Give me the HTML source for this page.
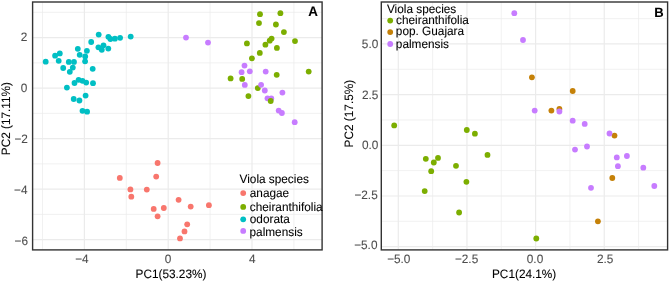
<!DOCTYPE html><html><head><meta charset="utf-8"><style>html,body{margin:0;padding:0;background:#fff;}svg{display:block;will-change:transform;}text{font-family:"Liberation Sans",sans-serif;text-rendering:geometricPrecision;}</style></head><body>
<svg width="669" height="282" viewBox="0 0 669 282">
<rect width="669" height="282" fill="#fff"/>
<line x1="42.50" y1="2.0" x2="42.50" y2="249.9" stroke="#EBEBEB" stroke-width="0.7"/>
<line x1="126.30" y1="2.0" x2="126.30" y2="249.9" stroke="#EBEBEB" stroke-width="0.7"/>
<line x1="210.10" y1="2.0" x2="210.10" y2="249.9" stroke="#EBEBEB" stroke-width="0.7"/>
<line x1="293.90" y1="2.0" x2="293.90" y2="249.9" stroke="#EBEBEB" stroke-width="0.7"/>
<line x1="32.6" y1="12.32" x2="322.1" y2="12.32" stroke="#EBEBEB" stroke-width="0.7"/>
<line x1="32.6" y1="62.84" x2="322.1" y2="62.84" stroke="#EBEBEB" stroke-width="0.7"/>
<line x1="32.6" y1="113.36" x2="322.1" y2="113.36" stroke="#EBEBEB" stroke-width="0.7"/>
<line x1="32.6" y1="163.88" x2="322.1" y2="163.88" stroke="#EBEBEB" stroke-width="0.7"/>
<line x1="32.6" y1="214.40" x2="322.1" y2="214.40" stroke="#EBEBEB" stroke-width="0.7"/>
<line x1="84.40" y1="2.0" x2="84.40" y2="249.9" stroke="#EBEBEB" stroke-width="1.2"/>
<line x1="168.20" y1="2.0" x2="168.20" y2="249.9" stroke="#EBEBEB" stroke-width="1.2"/>
<line x1="252.00" y1="2.0" x2="252.00" y2="249.9" stroke="#EBEBEB" stroke-width="1.2"/>
<line x1="32.6" y1="37.58" x2="322.1" y2="37.58" stroke="#EBEBEB" stroke-width="1.2"/>
<line x1="32.6" y1="88.10" x2="322.1" y2="88.10" stroke="#EBEBEB" stroke-width="1.2"/>
<line x1="32.6" y1="138.62" x2="322.1" y2="138.62" stroke="#EBEBEB" stroke-width="1.2"/>
<line x1="32.6" y1="189.14" x2="322.1" y2="189.14" stroke="#EBEBEB" stroke-width="1.2"/>
<line x1="32.6" y1="239.66" x2="322.1" y2="239.66" stroke="#EBEBEB" stroke-width="1.2"/>
<line x1="432.62" y1="2.0" x2="432.62" y2="249.9" stroke="#EBEBEB" stroke-width="0.7"/>
<line x1="501.28" y1="2.0" x2="501.28" y2="249.9" stroke="#EBEBEB" stroke-width="0.7"/>
<line x1="569.93" y1="2.0" x2="569.93" y2="249.9" stroke="#EBEBEB" stroke-width="0.7"/>
<line x1="638.58" y1="2.0" x2="638.58" y2="249.9" stroke="#EBEBEB" stroke-width="0.7"/>
<line x1="381.3" y1="18.61" x2="667.6" y2="18.61" stroke="#EBEBEB" stroke-width="0.7"/>
<line x1="381.3" y1="69.29" x2="667.6" y2="69.29" stroke="#EBEBEB" stroke-width="0.7"/>
<line x1="381.3" y1="119.96" x2="667.6" y2="119.96" stroke="#EBEBEB" stroke-width="0.7"/>
<line x1="381.3" y1="170.64" x2="667.6" y2="170.64" stroke="#EBEBEB" stroke-width="0.7"/>
<line x1="381.3" y1="221.31" x2="667.6" y2="221.31" stroke="#EBEBEB" stroke-width="0.7"/>
<line x1="398.30" y1="2.0" x2="398.30" y2="249.9" stroke="#EBEBEB" stroke-width="1.2"/>
<line x1="466.95" y1="2.0" x2="466.95" y2="249.9" stroke="#EBEBEB" stroke-width="1.2"/>
<line x1="535.60" y1="2.0" x2="535.60" y2="249.9" stroke="#EBEBEB" stroke-width="1.2"/>
<line x1="604.25" y1="2.0" x2="604.25" y2="249.9" stroke="#EBEBEB" stroke-width="1.2"/>
<line x1="381.3" y1="43.95" x2="667.6" y2="43.95" stroke="#EBEBEB" stroke-width="1.2"/>
<line x1="381.3" y1="94.63" x2="667.6" y2="94.63" stroke="#EBEBEB" stroke-width="1.2"/>
<line x1="381.3" y1="145.30" x2="667.6" y2="145.30" stroke="#EBEBEB" stroke-width="1.2"/>
<line x1="381.3" y1="195.98" x2="667.6" y2="195.98" stroke="#EBEBEB" stroke-width="1.2"/>
<line x1="381.3" y1="246.65" x2="667.6" y2="246.65" stroke="#EBEBEB" stroke-width="1.2"/>
<circle cx="157.6" cy="163" r="2.9" fill="#F8766D"/>
<circle cx="119.8" cy="177.9" r="2.9" fill="#F8766D"/>
<circle cx="156.2" cy="176.6" r="2.9" fill="#F8766D"/>
<circle cx="130.4" cy="189.4" r="2.9" fill="#F8766D"/>
<circle cx="146.8" cy="189.6" r="2.9" fill="#F8766D"/>
<circle cx="131.3" cy="196.7" r="2.9" fill="#F8766D"/>
<circle cx="153.7" cy="208.9" r="2.9" fill="#F8766D"/>
<circle cx="163.8" cy="208" r="2.9" fill="#F8766D"/>
<circle cx="157.6" cy="216.3" r="2.9" fill="#F8766D"/>
<circle cx="178.6" cy="199.8" r="2.9" fill="#F8766D"/>
<circle cx="190.7" cy="206.6" r="2.9" fill="#F8766D"/>
<circle cx="208.9" cy="205.2" r="2.9" fill="#F8766D"/>
<circle cx="187.2" cy="224.3" r="2.9" fill="#F8766D"/>
<circle cx="184.5" cy="231.4" r="2.9" fill="#F8766D"/>
<circle cx="180" cy="238.4" r="2.9" fill="#F8766D"/>
<circle cx="260" cy="14.2" r="2.9" fill="#7CAE00"/>
<circle cx="280.4" cy="13.2" r="2.9" fill="#7CAE00"/>
<circle cx="259" cy="23.1" r="2.9" fill="#7CAE00"/>
<circle cx="275.9" cy="24.5" r="2.9" fill="#7CAE00"/>
<circle cx="283.9" cy="32.1" r="2.9" fill="#7CAE00"/>
<circle cx="246.9" cy="43.4" r="2.9" fill="#7CAE00"/>
<circle cx="265.4" cy="44.7" r="2.9" fill="#7CAE00"/>
<circle cx="269.7" cy="40.7" r="2.9" fill="#7CAE00"/>
<circle cx="271.6" cy="38.6" r="2.9" fill="#7CAE00"/>
<circle cx="276.9" cy="47.9" r="2.9" fill="#7CAE00"/>
<circle cx="295" cy="41.1" r="2.9" fill="#7CAE00"/>
<circle cx="259.8" cy="52.9" r="2.9" fill="#7CAE00"/>
<circle cx="251.9" cy="58.3" r="2.9" fill="#7CAE00"/>
<circle cx="276.7" cy="74.8" r="2.9" fill="#7CAE00"/>
<circle cx="308.7" cy="71.6" r="2.9" fill="#7CAE00"/>
<circle cx="230.6" cy="78.4" r="2.9" fill="#7CAE00"/>
<circle cx="242.2" cy="78.9" r="2.9" fill="#7CAE00"/>
<circle cx="257.8" cy="88.1" r="2.9" fill="#7CAE00"/>
<circle cx="248.4" cy="96.1" r="2.9" fill="#7CAE00"/>
<circle cx="45.7" cy="61.7" r="2.9" fill="#00BFC4"/>
<circle cx="55.1" cy="55.7" r="2.9" fill="#00BFC4"/>
<circle cx="59.8" cy="53.4" r="2.9" fill="#00BFC4"/>
<circle cx="58.7" cy="60.8" r="2.9" fill="#00BFC4"/>
<circle cx="63.2" cy="68" r="2.9" fill="#00BFC4"/>
<circle cx="68.8" cy="61.9" r="2.9" fill="#00BFC4"/>
<circle cx="74.0" cy="61.9" r="2.9" fill="#00BFC4"/>
<circle cx="72.8" cy="67.6" r="2.9" fill="#00BFC4"/>
<circle cx="69.8" cy="71.8" r="2.9" fill="#00BFC4"/>
<circle cx="77.8" cy="48.8" r="2.9" fill="#00BFC4"/>
<circle cx="79.7" cy="54.8" r="2.9" fill="#00BFC4"/>
<circle cx="86.9" cy="50.8" r="2.9" fill="#00BFC4"/>
<circle cx="85.2" cy="56.5" r="2.9" fill="#00BFC4"/>
<circle cx="85.1" cy="61.3" r="2.9" fill="#00BFC4"/>
<circle cx="91.2" cy="42.0" r="2.9" fill="#00BFC4"/>
<circle cx="92.7" cy="68.8" r="2.9" fill="#00BFC4"/>
<circle cx="98.7" cy="34.6" r="2.9" fill="#00BFC4"/>
<circle cx="108.4" cy="36.8" r="2.9" fill="#00BFC4"/>
<circle cx="110.4" cy="39.0" r="2.9" fill="#00BFC4"/>
<circle cx="114.9" cy="38.7" r="2.9" fill="#00BFC4"/>
<circle cx="120.1" cy="37.8" r="2.9" fill="#00BFC4"/>
<circle cx="130.7" cy="36.6" r="2.9" fill="#00BFC4"/>
<circle cx="98.4" cy="47.3" r="2.9" fill="#00BFC4"/>
<circle cx="103.5" cy="45.3" r="2.9" fill="#00BFC4"/>
<circle cx="101.8" cy="49.8" r="2.9" fill="#00BFC4"/>
<circle cx="108.3" cy="48.6" r="2.9" fill="#00BFC4"/>
<circle cx="74.5" cy="83.0" r="2.9" fill="#00BFC4"/>
<circle cx="78.6" cy="79.8" r="2.9" fill="#00BFC4"/>
<circle cx="82.5" cy="80.8" r="2.9" fill="#00BFC4"/>
<circle cx="86.2" cy="82.6" r="2.9" fill="#00BFC4"/>
<circle cx="93.0" cy="83.2" r="2.9" fill="#00BFC4"/>
<circle cx="66.9" cy="87.6" r="2.9" fill="#00BFC4"/>
<circle cx="85.6" cy="95.6" r="2.9" fill="#00BFC4"/>
<circle cx="73.7" cy="99.0" r="2.9" fill="#00BFC4"/>
<circle cx="79.4" cy="100.5" r="2.9" fill="#00BFC4"/>
<circle cx="82.5" cy="110.8" r="2.9" fill="#00BFC4"/>
<circle cx="87.1" cy="111.7" r="2.9" fill="#00BFC4"/>
<circle cx="186" cy="37.6" r="2.9" fill="#C77CFF"/>
<circle cx="208" cy="42.6" r="2.9" fill="#C77CFF"/>
<circle cx="244.5" cy="65.6" r="2.9" fill="#C77CFF"/>
<circle cx="241.6" cy="72.2" r="2.9" fill="#C77CFF"/>
<circle cx="249.8" cy="71.3" r="2.9" fill="#C77CFF"/>
<circle cx="265.7" cy="71.6" r="2.9" fill="#C77CFF"/>
<circle cx="244.8" cy="84.9" r="2.9" fill="#C77CFF"/>
<circle cx="261.1" cy="84.8" r="2.9" fill="#C77CFF"/>
<circle cx="264.8" cy="90.5" r="2.9" fill="#C77CFF"/>
<circle cx="282.4" cy="92.6" r="2.9" fill="#C77CFF"/>
<circle cx="267.5" cy="98.3" r="2.9" fill="#C77CFF"/>
<circle cx="271.3" cy="98.5" r="2.9" fill="#C77CFF"/>
<circle cx="278.7" cy="110.6" r="2.9" fill="#C77CFF"/>
<circle cx="281.9" cy="113" r="2.9" fill="#C77CFF"/>
<circle cx="294.7" cy="122.2" r="2.9" fill="#C77CFF"/>
<circle cx="270.7" cy="101" r="2.9" fill="#7CAE00"/>
<circle cx="394.2" cy="125.4" r="2.9" fill="#7CAE00"/>
<circle cx="466.8" cy="130" r="2.9" fill="#7CAE00"/>
<circle cx="474.9" cy="133.7" r="2.9" fill="#7CAE00"/>
<circle cx="487.5" cy="154.9" r="2.9" fill="#7CAE00"/>
<circle cx="425.8" cy="158.8" r="2.9" fill="#7CAE00"/>
<circle cx="438" cy="157.9" r="2.9" fill="#7CAE00"/>
<circle cx="433.8" cy="162.5" r="2.9" fill="#7CAE00"/>
<circle cx="456" cy="165.8" r="2.9" fill="#7CAE00"/>
<circle cx="431.2" cy="171.2" r="2.9" fill="#7CAE00"/>
<circle cx="466.4" cy="181.8" r="2.9" fill="#7CAE00"/>
<circle cx="424.7" cy="191.1" r="2.9" fill="#7CAE00"/>
<circle cx="459.1" cy="212.5" r="2.9" fill="#7CAE00"/>
<circle cx="536.3" cy="238.5" r="2.9" fill="#7CAE00"/>
<circle cx="531.9" cy="77.3" r="2.9" fill="#C58108"/>
<circle cx="572.7" cy="91" r="2.9" fill="#C58108"/>
<circle cx="551.4" cy="110.6" r="2.9" fill="#C58108"/>
<circle cx="559.4" cy="108.9" r="2.9" fill="#C58108"/>
<circle cx="614.5" cy="135.6" r="2.9" fill="#C58108"/>
<circle cx="612.3" cy="178" r="2.9" fill="#C58108"/>
<circle cx="597.9" cy="221.3" r="2.9" fill="#C58108"/>
<circle cx="514.3" cy="13.2" r="2.9" fill="#C77CFF"/>
<circle cx="523" cy="40" r="2.9" fill="#C77CFF"/>
<circle cx="534.7" cy="110.6" r="2.9" fill="#C77CFF"/>
<circle cx="559.4" cy="111.5" r="2.9" fill="#C77CFF"/>
<circle cx="572.7" cy="120.7" r="2.9" fill="#C77CFF"/>
<circle cx="584.7" cy="123.9" r="2.9" fill="#C77CFF"/>
<circle cx="575" cy="149.6" r="2.9" fill="#C77CFF"/>
<circle cx="587" cy="146.5" r="2.9" fill="#C77CFF"/>
<circle cx="609.5" cy="133.5" r="2.9" fill="#C77CFF"/>
<circle cx="616.8" cy="157.4" r="2.9" fill="#C77CFF"/>
<circle cx="626.9" cy="156" r="2.9" fill="#C77CFF"/>
<circle cx="617.9" cy="166.2" r="2.9" fill="#C77CFF"/>
<circle cx="643.3" cy="167.7" r="2.9" fill="#C77CFF"/>
<circle cx="591" cy="187.8" r="2.9" fill="#C77CFF"/>
<circle cx="654.3" cy="186" r="2.9" fill="#C77CFF"/>
<rect x="32.6" y="2.0" width="289.50" height="247.90" fill="none" stroke="#333333" stroke-width="1.4"/>
<rect x="381.3" y="2.0" width="286.30" height="247.90" fill="none" stroke="#333333" stroke-width="1.4"/>
<text transform="translate(20.68,40.59) scale(1,1.03)" font-size="11.8" fill="#4D4D4D" stroke="#4D4D4D" stroke-width="0.08">2</text>
<text transform="translate(20.82,91.63) scale(1,1.03)" font-size="11.8" fill="#4D4D4D" stroke="#4D4D4D" stroke-width="0.08">0</text>
<text transform="translate(14.42,142.81) scale(1,1.03)" font-size="11.8" fill="#4D4D4D" stroke="#4D4D4D" stroke-width="0.08">−2</text>
<text transform="translate(13.99,193.98) scale(1,1.03)" font-size="11.8" fill="#4D4D4D" stroke="#4D4D4D" stroke-width="0.08">−4</text>
<text transform="translate(14.61,245.23) scale(1,1.03)" font-size="11.8" fill="#4D4D4D" stroke="#4D4D4D" stroke-width="0.08">−6</text>
<text transform="translate(75.19,262.51) scale(1,1.03)" font-size="11.8" fill="#4D4D4D" stroke="#4D4D4D" stroke-width="0.08">−4</text>
<text transform="translate(164.72,262.63) scale(1,1.03)" font-size="11.8" fill="#4D4D4D" stroke="#4D4D4D" stroke-width="0.08">0</text>
<text transform="translate(249.10,262.50) scale(1,1.03)" font-size="11.8" fill="#4D4D4D" stroke="#4D4D4D" stroke-width="0.08">4</text>
<text transform="translate(361.86,48.28) scale(1,1.03)" font-size="11.8" fill="#4D4D4D" stroke="#4D4D4D" stroke-width="0.08">5.0</text>
<text transform="translate(361.89,98.78) scale(1,1.03)" font-size="11.8" fill="#4D4D4D" stroke="#4D4D4D" stroke-width="0.08">2.5</text>
<text transform="translate(361.96,148.73) scale(1,1.03)" font-size="11.8" fill="#4D4D4D" stroke="#4D4D4D" stroke-width="0.08">0.0</text>
<text transform="translate(354.40,198.50) scale(1,1.03)" font-size="11.8" fill="#4D4D4D" stroke="#4D4D4D" stroke-width="0.08">−2.5</text>
<text transform="translate(354.17,249.28) scale(1,1.03)" font-size="11.8" fill="#4D4D4D" stroke="#4D4D4D" stroke-width="0.08">−5.0</text>
<text transform="translate(387.14,263.08) scale(1,1.03)" font-size="11.8" fill="#4D4D4D" stroke="#4D4D4D" stroke-width="0.08">−5.0</text>
<text transform="translate(454.91,262.96) scale(1,1.03)" font-size="11.8" fill="#4D4D4D" stroke="#4D4D4D" stroke-width="0.08">−2.5</text>
<text transform="translate(526.80,263.25) scale(1,1.03)" font-size="11.8" fill="#4D4D4D" stroke="#4D4D4D" stroke-width="0.08">0.0</text>
<text transform="translate(597.01,262.93) scale(1,1.03)" font-size="11.8" fill="#4D4D4D" stroke="#4D4D4D" stroke-width="0.08">2.5</text>
<text transform="translate(135.56,277.65) scale(1,1.03)" font-size="11.8" fill="#000" stroke="#000" stroke-width="0.08">PC1(53.23%)</text>
<text transform="translate(492.00,277.65) scale(1,1.03)" font-size="11.8" fill="#000" stroke="#000" stroke-width="0.08">PC1(24.1%)</text>
<text transform="translate(10.08,155.22) rotate(-90) scale(1,1.03)" font-size="11.8" fill="#000" stroke="#000" stroke-width="0.08">PC2 (17.11%)</text>
<text transform="translate(352.83,147.39) rotate(-90) scale(1,1.03)" font-size="11.8" fill="#000" stroke="#000" stroke-width="0.08">PC2 (17.5%)</text>
<text transform="translate(308.17,15.65) scale(1,1.03)" font-size="13.4" fill="#000" stroke="#000" stroke-width="0.08" font-weight="bold">A</text>
<text transform="translate(654.17,16.51) scale(1,1.03)" font-size="13" fill="#000" stroke="#000" stroke-width="0.08" font-weight="bold">B</text>
<text transform="translate(239.55,183.30) scale(1,1.03)" font-size="11.8" fill="#000" stroke="#000" stroke-width="0.08">Viola species</text>
<circle cx="243.2" cy="193.05" r="2.9" fill="#F8766D"/>
<text transform="translate(249.80,197.00) scale(1,1.03)" font-size="11.8" fill="#000" stroke="#000" stroke-width="0.08">anagae</text>
<circle cx="243.2" cy="206.9" r="2.9" fill="#7CAE00"/>
<text transform="translate(249.80,211.00) scale(1,1.03)" font-size="11.8" fill="#000" stroke="#000" stroke-width="0.08">cheiranthifolia</text>
<circle cx="243.2" cy="219.35" r="2.9" fill="#00BFC4"/>
<text transform="translate(249.80,223.30) scale(1,1.03)" font-size="11.8" fill="#000" stroke="#000" stroke-width="0.08">odorata</text>
<circle cx="243.2" cy="230.9" r="2.9" fill="#C77CFF"/>
<text transform="translate(249.54,235.60) scale(1,1.03)" font-size="11.8" fill="#000" stroke="#000" stroke-width="0.08">palmensis</text>
<text transform="translate(386.95,13.40) scale(1,1.03)" font-size="11.8" fill="#000" stroke="#000" stroke-width="0.08">Viola species</text>
<circle cx="390.2" cy="20.6" r="2.9" fill="#7CAE00"/>
<text transform="translate(396.10,24.30) scale(1,1.03)" font-size="11.8" fill="#000" stroke="#000" stroke-width="0.08">cheiranthifolia</text>
<circle cx="390.2" cy="32.1" r="2.9" fill="#C58108"/>
<text transform="translate(395.84,35.40) scale(1,1.03)" font-size="11.8" fill="#000" stroke="#000" stroke-width="0.08">pop. Guajara</text>
<circle cx="390.2" cy="44.0" r="2.9" fill="#C77CFF"/>
<text transform="translate(395.84,48.30) scale(1,1.03)" font-size="11.8" fill="#000" stroke="#000" stroke-width="0.08">palmensis</text>
</svg></body></html>
